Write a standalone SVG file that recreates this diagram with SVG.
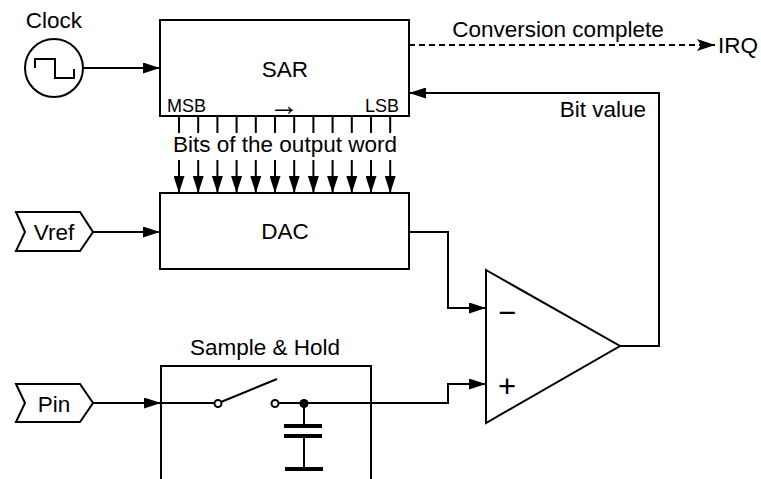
<svg xmlns="http://www.w3.org/2000/svg" width="761" height="479" viewBox="0 0 761 479">
<style>
.s{fill:none;stroke:#000;stroke-width:2}
.b{fill:#fff;stroke:#000;stroke-width:2}
text{font-family:"Liberation Sans",Arial,Helvetica,sans-serif;font-size:22.5px;fill:#000}
.sm{font-size:18px}
.c{text-anchor:middle}
.e{text-anchor:end}
.d{stroke-dasharray:6,4}
.pm{font-size:31px}
</style>
<defs>
<marker id="ah" markerUnits="userSpaceOnUse" markerWidth="17" markerHeight="11" refX="17" refY="5.5" orient="auto">
<path d="M0,0 L17,5.5 L0,11 z" fill="#000"/>
</marker>
<marker id="ad" markerUnits="userSpaceOnUse" markerWidth="18" markerHeight="12" refX="18" refY="6" orient="auto">
<path d="M0,0 L18,6 L0,12 L4,6 z" fill="#000"/>
</marker>
</defs>
<g id="clock">
<text class="c" x="54" y="28">Clock</text>
<circle class="b" cx="54" cy="68" r="29"/>
<path class="s" d="M35,68 V59 H55 V78 H74 V69"/>
</g>
<g id="sar">
<rect class="b" x="160" y="20" width="249" height="96"/>
<text class="c" x="285" y="77">SAR</text>
<text class="sm" x="167" y="112">MSB</text>
<text class="c" x="284" y="115" style="font-size:30px">→</text>
<text class="sm e" x="399" y="112">LSB</text>
</g>
<g id="dac">
<rect class="b" x="160" y="193" width="249" height="76"/>
<text class="c" x="285" y="239">DAC</text>
</g>
<g id="vref">
<path class="b" d="M16,212 H80 L93,232 L80,251 H16 L25,232 z"/>
<text class="c" x="54" y="240">Vref</text>
</g>
<g id="pin">
<path class="b" d="M16,384 H80 L93,403 L80,422 H16 L25,403 z"/>
<text class="c" x="54" y="412">Pin</text>
</g>
<g id="sample-hold">
<text class="c" x="265" y="355">Sample &amp; Hold</text>
<rect class="b" x="161" y="366" width="210" height="130"/>
</g>
<g id="comparator">
<path class="b" d="M486,270 L620,346 L486,423 z"/>
<text class="c pm" x="507" y="323">−</text>
<text class="c pm" x="507" y="397">+</text>
</g>
<g id="irq">
<text x="718" y="53">IRQ</text>
</g>
<g id="labels">
<text class="c" x="558" y="37">Conversion complete</text>
<text class="e" x="646" y="117">Bit value</text>
<text class="c" x="285" y="152">Bits of the output word</text>
</g>
<g id="connectors">
<path class="s" d="M83,68 H160" marker-end="url(#ah)"/>
<path class="s d" d="M409,45 H715" marker-end="url(#ad)"/>
<path class="s" d="M620,346 H659 V93 H409" marker-end="url(#ah)"/>
<path class="s" d="M93,232 H160" marker-end="url(#ah)"/>
<path class="s" d="M409,232 H448 V308 H486" marker-end="url(#ah)"/>
<path class="s" d="M93,403 H161" marker-end="url(#ah)"/>
<path class="s" d="M161,403 H214.5 M221,402 L277,379 M278.5,403 H448 V384 H486" marker-end="url(#ah)"/>
<path class="s" d="M304,403 V426 M304,436 V469"/>
<path d="M284,426 H322 M284,436 H322 M285,469 H323" stroke="#000" stroke-width="4" fill="none"/>
<circle class="b" cx="218" cy="403.5" r="3.5"/>
<circle class="b" cx="275" cy="403.5" r="3.5"/>
<circle cx="304" cy="403.5" r="4.5" fill="#000"/>
<g class="s">
<path d="M179,116 V133 M198.2,116 V133 M217.4,116 V133 M236.6,116 V133 M255.8,116 V133 M275,116 V133 M294.2,116 V133 M313.4,116 V133 M332.6,116 V133 M351.8,116 V133 M371,116 V133 M390.2,116 V133"/>
<path d="M179,160 V193" marker-end="url(#ah)"/>
<path d="M198.2,160 V193" marker-end="url(#ah)"/>
<path d="M217.4,160 V193" marker-end="url(#ah)"/>
<path d="M236.6,160 V193" marker-end="url(#ah)"/>
<path d="M255.8,160 V193" marker-end="url(#ah)"/>
<path d="M275,160 V193" marker-end="url(#ah)"/>
<path d="M294.2,160 V193" marker-end="url(#ah)"/>
<path d="M313.4,160 V193" marker-end="url(#ah)"/>
<path d="M332.6,160 V193" marker-end="url(#ah)"/>
<path d="M351.8,160 V193" marker-end="url(#ah)"/>
<path d="M371,160 V193" marker-end="url(#ah)"/>
<path d="M390.2,160 V193" marker-end="url(#ah)"/>
</g>
</g>
</svg>
